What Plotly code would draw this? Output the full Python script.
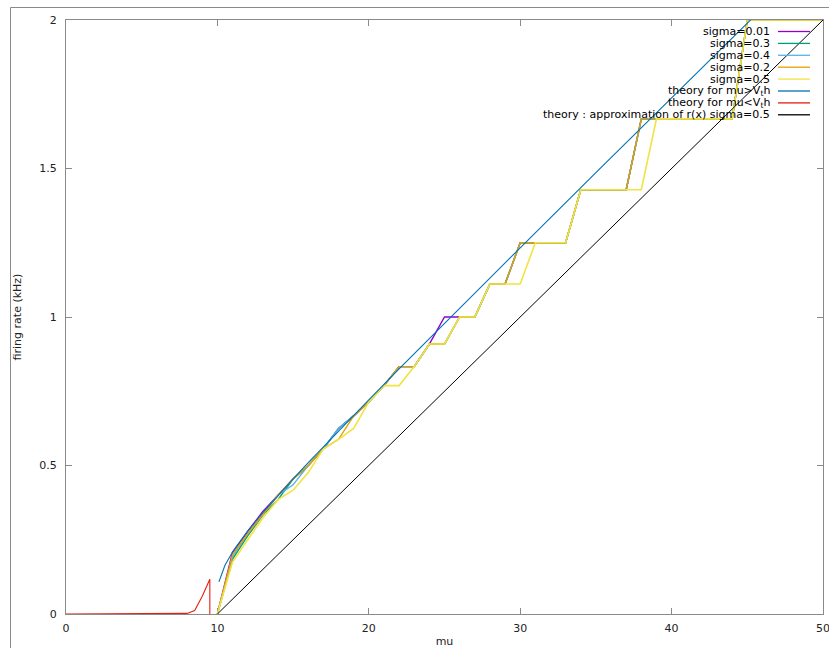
import plotly.graph_objects as go

# ---------------- data ----------------
mu_sim = list(range(10, 51))

rate_s001 = [0, 0.208, 0.278, 0.345, 0.400, 0.4545, 0.500, 0.556, 0.625, 0.667,
             0.714, 0.769, 0.833, 0.833, 0.909, 1.000, 1.000, 1.000, 1.111, 1.111,
             1.250, 1.250, 1.250, 1.250, 1.4286, 1.4286, 1.4286, 1.4286, 1.667, 1.667,
             1.667, 1.667, 1.667, 1.667, 1.667, 2.0, 2.0, 2.0, 2.0, 2.0, 2.0]
rate_s03 = [0, 0.185, 0.263, 0.333, 0.385, 0.4545, 0.500, 0.556, 0.625, 0.667,
            0.714, 0.769, 0.833, 0.833, 0.909, 0.909, 1.000, 1.000, 1.111, 1.111,
            1.250, 1.250, 1.250, 1.250, 1.4286, 1.4286, 1.4286, 1.4286, 1.667, 1.667,
            1.667, 1.667, 1.667, 1.667, 1.667, 2.0, 2.0, 2.0, 2.0, 2.0, 2.0]
rate_s04 = [0, 0.192, 0.270, 0.333, 0.400, 0.435, 0.500, 0.556, 0.625, 0.667,
            0.714, 0.769, 0.833, 0.833, 0.909, 0.909, 1.000, 1.000, 1.111, 1.111,
            1.250, 1.250, 1.250, 1.250, 1.4286, 1.4286, 1.4286, 1.4286, 1.667, 1.667,
            1.667, 1.667, 1.667, 1.667, 1.667, 2.0, 2.0, 2.0, 2.0, 2.0, 2.0]
rate_s02 = [0, 0.200, 0.270, 0.333, 0.400, 0.4545, 0.500, 0.556, 0.588, 0.667,
            0.714, 0.769, 0.833, 0.833, 0.909, 0.909, 1.000, 1.000, 1.111, 1.111,
            1.250, 1.250, 1.250, 1.250, 1.4286, 1.4286, 1.4286, 1.4286, 1.667, 1.667,
            1.667, 1.667, 1.667, 1.667, 1.667, 2.0, 2.0, 2.0, 2.0, 2.0, 2.0]
rate_s05 = [0, 0.175, 0.250, 0.323, 0.385, 0.417, 0.476, 0.556, 0.588, 0.625,
            0.714, 0.769, 0.769, 0.833, 0.909, 0.909, 1.000, 1.000, 1.111, 1.111,
            1.111, 1.250, 1.250, 1.250, 1.4286, 1.4286, 1.4286, 1.4286, 1.4286, 1.667,
            1.667, 1.667, 1.667, 1.667, 1.667, 2.0, 2.0, 2.0, 2.0, 2.0, 2.0]

mu_theory_hi = [10.1, 10.5, 11, 12, 13, 14, 15, 16, 18, 20, 22, 25, 30, 35, 40, 45, 50]
rate_theory_hi = [0.108, 0.164, 0.2085, 0.279, 0.341, 0.399, 0.455, 0.510, 0.617,
                  0.721, 0.825, 0.979, 1.233, 1.486, 1.738, 1.990, 2.241]

mu_theory_lo = [0, 1, 2, 3, 4, 5, 6, 7, 7.5, 8.0, 8.5, 9.0, 9.5, 9.5]
rate_theory_lo = [0, 0, 0, 0, 0, 0, 0, 0, 0, 0.002, 0.012, 0.060, 0.117, 0]

mu_approx = [10, 50]
rate_approx = [0, 2]

series = [
    ("sigma=0.01", mu_sim, rate_s001, "#9400d3", 1.4),
    ("sigma=0.3", mu_sim, rate_s03, "#009e73", 1.4),
    ("sigma=0.4", mu_sim, rate_s04, "#56b4e9", 1.4),
    ("sigma=0.2", mu_sim, rate_s02, "#e69f00", 1.4),
    ("sigma=0.5", mu_sim, rate_s05, "#f0e442", 1.6),
    ("theory for mu>V<sub>t</sub>h", mu_theory_hi, rate_theory_hi, "#0072b2", 1.1),
    ("theory for mu<V<sub>t</sub>h", mu_theory_lo, rate_theory_lo, "#e51e10", 1.1),
    ("theory : approximation of r(x) sigma=0.5", mu_approx, rate_approx, "#000000", 1.0),
]

# ---------------- figure ----------------
W, H = 829, 648
L, R, T, B = 66, 823, 20, 614
FONT = "DejaVu Sans"

fig = go.Figure()
for name, xs, ys, col, lw in series:
    fig.add_trace(go.Scatter(x=xs, y=ys, mode="lines", name=name,
                             line=dict(color=col, width=lw), showlegend=False,
                             hoverinfo="skip"))

def px_x(p):
    return (p - L) / (R - L)

def px_y(p):
    return (B - p) / (B - T)

shapes = []
annotations = []
# manual gnuplot-style key (text left, sample right)
row0, dy = 31.5, 11.9
for i, (name, xs, ys, col, lw) in enumerate(series):
    yp = px_y(row0 + i * dy)
    annotations.append(dict(xref="paper", yref="paper", x=px_x(772), y=yp,
                            xanchor="right", yanchor="middle", showarrow=False,
                            text=name, font=dict(family=FONT, size=11, color="#000")))
    shapes.append(dict(type="line", xref="paper", yref="paper",
                       x0=px_x(778), x1=px_x(810), y0=yp, y1=yp,
                       line=dict(color=col, width=1.3)))

# outer frame (partially visible)
shapes.append(dict(type="rect", xref="paper", yref="paper",
                   x0=px_x(10.5), x1=px_x(900), y0=px_y(700), y1=px_y(7.5),
                   line=dict(color="#8a8a8a", width=1), layer="below"))

axis_common = dict(showgrid=False, zeroline=False, showline=True, linecolor="#8a8a8a",
                   linewidth=1, mirror="ticks", ticks="inside", ticklen=6,
                   automargin=False, layer="below traces", ticklabeloverflow="allow",
                   tickcolor="#8a8a8a", tickfont=dict(family=FONT, size=11, color="#222"))

fig.update_layout(
    width=W, height=H, autosize=False,
    margin=dict(l=L, r=W - R, t=T, b=H - B, pad=0, autoexpand=False),
    paper_bgcolor="white", plot_bgcolor="white",
    font=dict(family=FONT, size=11, color="#222"),
    xaxis=dict(range=[0, 50], tickvals=[0, 10, 20, 30, 40, 50],
               title=dict(text="mu", standoff=4, font=dict(family=FONT, size=11)),
               ticklabelstandoff=4, **axis_common),
    yaxis=dict(range=[0, 2], tickvals=[0, 0.5, 1, 1.5, 2],
               ticktext=["0", "0.5", "1", "1.5", "2"],
               title=dict(text="firing rate (kHz)", standoff=15,
                          font=dict(family=FONT, size=11)),
               ticklabelstandoff=6, **axis_common),
    shapes=shapes, annotations=annotations,
)

# remove the browser's default 8px body margin so the figure fills the window exactly
fig.write_html("out.html",
               config={"displayModeBar": False},
               post_script="document.body.style.margin='0';"
                           "document.body.style.overflow='hidden';")
